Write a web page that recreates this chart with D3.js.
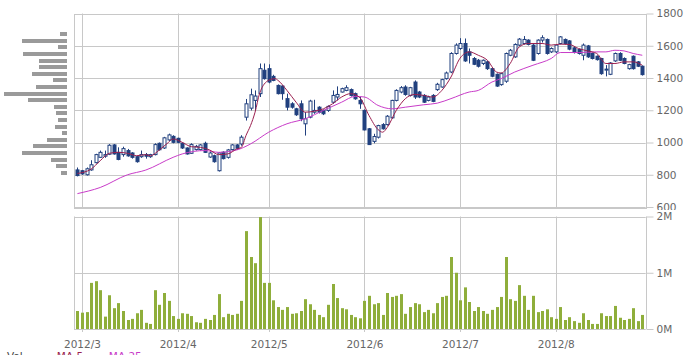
<!DOCTYPE html>
<html>
<head>
<meta charset="utf-8">
<script src="https://cdn.jsdelivr.net/npm/d3@7"></script>
<style>
  body { margin: 0; background: #fff; }
  svg { display: block; overflow: hidden; font-family: "DejaVu Sans", Verdana, sans-serif; }
</style>
</head>
<body>
<svg id="chart" width="697" height="355"></svg>
<script>
// month ticks (index of first trading day of each month)
const monthLabels = ["2012/3", "2012/4", "2012/5", "2012/6", "2012/7", "2012/8"]
const monthStartIdx = [1, 22, 42, 63, 84, 105]
const priceTicks = [600, 800, 1000, 1200, 1400, 1600, 1800]
const volTicks = [0, 1000, 2000] // thousands of shares

// daily candles, Feb 29 .. Aug 28
const opens = [830, 825, 800, 830, 875, 908, 915, 927, 985, 939, 925, 950, 935, 912, 912, 925, 912, 925, 995, 966,
  1016, 1038, 1026, 995, 966, 933, 956, 956, 995, 910, 918, 825, 940, 908, 956, 985, 991, 1157, 1213, 1261,
  1303, 1448, 1458, 1410, 1354, 1350, 1272, 1240, 1209, 1240, 1116, 1157, 1188, 1219, 1199, 1199, 1250, 1282, 1313, 1323,
  1328, 1303, 1261, 1199, 1085, 1007, 1033, 1111, 1111, 1153, 1261, 1313, 1344, 1292, 1375, 1313, 1292, 1261, 1292, 1328,
  1344, 1396, 1437, 1552, 1583, 1614, 1562, 1521, 1510, 1490, 1500, 1458, 1423, 1359, 1380, 1541, 1531, 1604, 1614, 1635,
  1604, 1552, 1635, 1639, 1562, 1562, 1614, 1639, 1630, 1587, 1577, 1541, 1599, 1552, 1535, 1521, 1450, 1423, 1506, 1552,
  1521, 1458, 1535, 1500, 1473]
const highs = [845, 830, 845, 890, 930, 950, 950, 990, 990, 970, 974, 960, 940, 915, 950, 935, 930, 995, 1000, 1035,
  1055, 1045, 1030, 1000, 970, 995, 985, 990, 1005, 945, 925, 940, 945, 960, 990, 990, 1045, 1270, 1334, 1323,
  1490, 1490, 1485, 1420, 1360, 1355, 1303, 1250, 1215, 1261, 1188, 1265, 1265, 1225, 1205, 1230, 1323, 1348, 1340, 1355,
  1335, 1310, 1282, 1205, 1090, 1054, 1110, 1120, 1170, 1265, 1330, 1350, 1355, 1345, 1385, 1320, 1300, 1290, 1300, 1370,
  1395, 1440, 1560, 1615, 1647, 1645, 1583, 1530, 1518, 1515, 1505, 1462, 1428, 1432, 1558, 1580, 1615, 1648, 1660, 1640,
  1610, 1640, 1665, 1645, 1590, 1610, 1660, 1645, 1635, 1592, 1582, 1614, 1605, 1558, 1540, 1525, 1480, 1498, 1558, 1560,
  1528, 1488, 1540, 1505, 1478]
const lows = [790, 800, 795, 825, 870, 905, 905, 922, 925, 890, 912, 912, 900, 875, 905, 900, 905, 920, 950, 960,
  1010, 995, 995, 960, 925, 930, 950, 950, 935, 905, 875, 820, 895, 900, 950, 955, 980, 1136, 1199, 1199,
  1282, 1390, 1367, 1380, 1298, 1265, 1199, 1210, 1165, 1132, 1043, 1150, 1178, 1180, 1170, 1190, 1240, 1261, 1310, 1318,
  1285, 1265, 1209, 1075, 985, 995, 1025, 1080, 1105, 1148, 1255, 1305, 1290, 1285, 1270, 1275, 1245, 1255, 1250, 1320,
  1340, 1390, 1430, 1545, 1575, 1500, 1490, 1480, 1465, 1480, 1450, 1405, 1345, 1352, 1370, 1535, 1525, 1598, 1608, 1602,
  1505, 1545, 1620, 1545, 1555, 1555, 1608, 1608, 1572, 1552, 1545, 1510, 1525, 1515, 1508, 1420, 1410, 1418, 1500, 1505,
  1485, 1452, 1452, 1468, 1415]
const closes = [795, 805, 837, 862, 925, 939, 925, 983, 929, 895, 962, 917, 908, 881, 925, 915, 925, 987, 955, 1029,
  1047, 1001, 1001, 966, 929, 987, 976, 985, 939, 935, 881, 935, 900, 954, 985, 964, 1033, 1240, 1296, 1288,
  1458, 1396, 1375, 1385, 1303, 1303, 1219, 1219, 1172, 1147, 1147, 1257, 1199, 1188, 1178, 1224, 1292, 1298, 1334, 1340,
  1292, 1271, 1240, 1078, 987, 1037, 1105, 1085, 1163, 1261, 1323, 1340, 1298, 1340, 1282, 1282, 1250, 1282, 1255, 1361,
  1390, 1431, 1552, 1604, 1614, 1506, 1541, 1485, 1473, 1510, 1458, 1411, 1350, 1427, 1552, 1572, 1608, 1641, 1639, 1608,
  1510, 1635, 1650, 1552, 1583, 1604, 1655, 1614, 1579, 1558, 1552, 1604, 1531, 1521, 1514, 1427, 1455, 1493, 1552, 1510,
  1490, 1483, 1458, 1473, 1421]
const volumes = [320, 290, 300, 820, 850, 690, 220, 600, 370, 460,
  320, 160, 180, 280, 340, 110, 90, 690, 430, 640,
  500, 230, 180, 280, 270, 230, 120, 110, 180, 160,
  250, 620, 210, 270, 250, 270, 500, 1740, 1280, 1170,
  1990, 820, 820, 510, 390, 340, 390, 270, 280, 320,
  530, 440, 340, 250, 210, 430, 800, 550, 370, 350,
  250, 210, 190, 500, 590, 440, 460, 250, 640, 570,
  590, 620, 270, 390, 460, 440, 300, 340, 280, 460,
  570, 590, 1280, 1000, 510, 740, 480, 320, 390, 320,
  270, 340, 390, 570, 1280, 530, 500, 780, 590, 340,
  590, 300, 320, 350, 210, 180, 390, 160, 210, 140,
  110, 280, 160, 90, 90, 280, 230, 230, 410, 200,
  160, 180, 370, 140, 250]

// moving averages (index, value)
const maShortIdx = [0, 3, 5, 7, 9, 11, 13, 15, 16, 18, 20, 21, 23, 25, 27, 29, 31, 33, 35, 36, 37, 38, 39, 40, 42, 43.4, 44, 46, 48, 50,
  52, 54, 56, 58, 60, 62, 64, 66, 67, 68, 70, 72, 74, 76, 78, 80, 82, 84, 86, 88, 90, 92, 93, 95, 97, 99, 102, 104, 106, 108,
  110, 112, 114, 116, 118, 120, 122, 124]
const maShortVals = [808, 835, 887, 933, 939, 933, 918, 925, 918, 954, 1001, 1022, 1001, 974, 970, 954, 925, 929, 960, 970, 1043, 1105, 1188, 1305, 1386, 1396, 1386, 1323, 1250, 1188,
  1194, 1209, 1240, 1282, 1303, 1278, 1168, 1080, 1064, 1093, 1199, 1272, 1298, 1292, 1282, 1323, 1406, 1523, 1562, 1541, 1510, 1437, 1431, 1490, 1593, 1614, 1614, 1604, 1610, 1608,
  1583, 1568, 1552, 1490, 1490, 1500, 1500, 1479]
const maLongIdx = [0, 5, 11, 15, 21, 23, 28, 31, 35, 38, 42, 46, 50, 54, 58, 61, 63, 66, 69, 72, 76, 79, 82, 86, 88, 91, 93, 96, 100, 104,
  106, 110, 114, 116, 118, 120, 122, 124]
const maLongVals = [683, 721, 800, 829, 908, 929, 950, 939, 954, 991, 1064, 1116, 1147, 1199, 1250, 1286, 1282, 1230, 1209, 1219, 1234, 1244, 1272, 1313, 1323, 1375, 1396, 1437, 1479, 1521,
  1558, 1558, 1562, 1562, 1572, 1568, 1552, 1541]

// volume-by-price profile
const profileBins = [1672, 1631, 1590, 1549, 1508, 1467, 1426, 1385, 1344, 1303, 1263, 1222, 1181, 1140, 1099, 1058, 1017, 976, 935, 894, 853, 812]
const profileVals = [7, 45, 9, 44, 28, 28, 35, 14, 31, 63, 39, 13, 11, 9, 12, 5, 20, 34, 45, 16, 11, 6]

const legendItems = ["Vol", "— MA 5", "— MA 25"]

const svg = d3.select("#chart")
const left = 74, right = 645.7
const gridColor = "#c8c8c8"
const candleColor = "#21407f"
const shortColor = "#9a1f4f"
const longColor = "#c83cc8"
const font = "DejaVu Sans, Verdana, sans-serif"

const x = d3.scaleLinear().domain([-0.75, opens.length - 0.25]).range([left, right])
const yP = d3.scaleLinear().domain([600, 1800]).range([207, 13.5])
const yV = d3.scaleLinear().domain([0, 2000]).range([329, 216.5])
const px = v => Math.round(v) + 0.5

// ---- price panel
const pg = svg.append("g")
pg.selectAll(".hgrid").data(priceTicks).enter().append("line")
  .attr("x1", left).attr("x2", right)
  .attr("y1", d => px(yP(d))).attr("y2", d => px(yP(d)))
  .attr("stroke", gridColor)
pg.selectAll(".vgrid").data(monthStartIdx).enter().append("line")
  .attr("x1", d => px(x(d))).attr("x2", d => px(x(d)))
  .attr("y1", yP(1800)).attr("y2", yP(600))
  .attr("stroke", gridColor)
pg.append("rect")
  .attr("x", px(left)).attr("y", px(yP(1800)))
  .attr("width", Math.round(right - left)).attr("height", Math.round(yP(600) - yP(1800)))
  .attr("fill", "none").attr("stroke", gridColor)

// volume profile
const xProf = d3.scaleLinear().domain([0, d3.max(profileVals)]).range([0, 63])
svg.append("g").selectAll("rect").data(profileVals).enter().append("rect")
  .attr("x", d => 67 - xProf(d))
  .attr("y", (d, i) => Math.round(yP(profileBins[i])) - 2)
  .attr("width", d => xProf(d))
  .attr("height", 4)
  .attr("fill", "#9a9a9a")

// candles
const cg = svg.append("g")
opens.forEach((o, i) => {
  const c = closes[i], cx = px(x(i))
  cg.append("line")
    .attr("x1", cx).attr("x2", cx)
    .attr("y1", yP(highs[i])).attr("y2", yP(lows[i]))
    .attr("stroke", candleColor)
  const top = yP(Math.max(o, c)), bot = yP(Math.min(o, c))
  cg.append("rect")
    .attr("x", cx - 1.5).attr("y", top)
    .attr("width", 3).attr("height", Math.max(1, bot - top))
    .attr("fill", c >= o ? "#fff" : candleColor)
    .attr("stroke", candleColor)
    .attr("stroke-width", 1)
})

// moving averages
svg.append("clipPath").attr("id", "pclip").append("rect")
  .attr("x", left).attr("y", yP(1800)).attr("width", right - left).attr("height", yP(600) - yP(1800))
const line = d3.line().curve(d3.curveMonotoneX)
svg.append("path")
  .attr("d", line(maLongIdx.map((d, i) => [x(d), yP(maLongVals[i])])))
  .attr("fill", "none").attr("stroke", longColor).attr("stroke-width", 1)
  .attr("clip-path", "url(#pclip)")
svg.append("path")
  .attr("d", line(maShortIdx.map((d, i) => [x(d), yP(maShortVals[i])])))
  .attr("fill", "none").attr("stroke", shortColor).attr("stroke-width", 1)
  .attr("clip-path", "url(#pclip)")

// price axis
const pAxis = svg.append("g")
  .attr("transform", `translate(${px(right)},0)`)
  .call(d3.axisRight(yP).tickValues(priceTicks).tickSize(7).tickPadding(3).tickFormat(d3.format("d")))
pAxis.select(".domain").remove()
pAxis.selectAll("line").attr("stroke", gridColor)
pAxis.selectAll("text").attr("fill", "#666").attr("font-size", "10.5px").attr("font-family", font)

// white band between the panels (cuts the lowest price label)
svg.append("rect").attr("x", 640).attr("y", 210).attr("width", 57).attr("height", 150).attr("fill", "#fff")

// ---- volume panel
const vg = svg.append("g")
vg.selectAll(".hgrid").data(volTicks).enter().append("line")
  .attr("x1", left).attr("x2", right)
  .attr("y1", d => px(yV(d))).attr("y2", d => px(yV(d)))
  .attr("stroke", gridColor)
vg.selectAll(".vgrid").data(monthStartIdx).enter().append("line")
  .attr("x1", d => px(x(d))).attr("x2", d => px(x(d)))
  .attr("y1", yV(2000)).attr("y2", yV(0) + 3)
  .attr("stroke", gridColor)
vg.append("line").attr("x1", px(left)).attr("x2", px(left)).attr("y1", yV(2000)).attr("y2", yV(0)).attr("stroke", gridColor)
vg.append("line").attr("x1", px(right)).attr("x2", px(right)).attr("y1", yV(2000)).attr("y2", yV(0)).attr("stroke", gridColor)

vg.selectAll(".vbar").data(volumes).enter().append("rect")
  .attr("x", (d, i) => Math.round(x(i)) - 1)
  .attr("y", d => yV(d))
  .attr("width", 3)
  .attr("height", d => yV(0) - yV(d))
  .attr("fill", "#8fae3b")

const vAxis = svg.append("g")
  .attr("transform", `translate(${px(right)},0)`)
  .call(d3.axisRight(yV).tickValues(volTicks).tickSize(7).tickPadding(3).tickFormat(d => d / 1000 + "M"))
vAxis.select(".domain").remove()
vAxis.selectAll("line").attr("stroke", gridColor)
vAxis.selectAll("text").attr("fill", "#666").attr("font-size", "10.5px").attr("font-family", font)

// month labels
const xAxis = svg.append("g")
  .attr("transform", `translate(0,${yV(0)})`)
  .call(d3.axisBottom(x).tickValues(monthStartIdx).tickSize(0).tickPadding(11.5)
    .tickFormat((d, k) => monthLabels[k]))
xAxis.select(".domain").remove()
xAxis.selectAll("text").attr("fill", "#666").attr("font-size", "10.5px").attr("font-family", font)

// legend (cut off at the bottom edge, as in the source)
const legendX = [7, 43, 95]
const legendColors = ["#444", shortColor, longColor]
svg.append("g").selectAll("text").data(legendItems).enter().append("text")
  .attr("x", (d, i) => legendX[i]).attr("y", 360)
  .attr("font-size", "10.5px")
  .attr("font-family", font)
  .attr("fill", (d, i) => legendColors[i])
  .text(d => d)
</script>
</body>
</html>
